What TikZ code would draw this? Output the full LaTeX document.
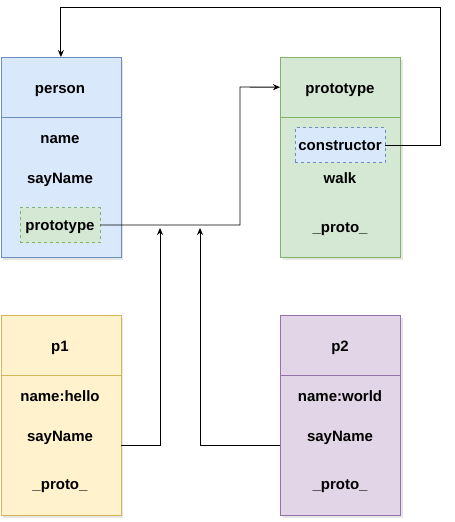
\documentclass[tikz,border=0pt]{standalone}
\usepackage{fontspec}
\setmainfont{Liberation Sans}
\usetikzlibrary{arrows.meta,shadows}
\definecolor{bfill}{HTML}{DAE8FC}\definecolor{bline}{HTML}{6C8EBF}
\definecolor{gfill}{HTML}{D5E8D4}\definecolor{gline}{HTML}{82B366}
\definecolor{yfill}{HTML}{FFF2CC}\definecolor{yline}{HTML}{D6B656}
\definecolor{pfill}{HTML}{E1D5E7}\definecolor{pline}{HTML}{9673A6}
\begin{document}
\begin{tikzpicture}[x=1pt,y=-1pt,
  box/.style={draw, anchor=north west, minimum width=120pt, minimum height=200pt, inner sep=0, line width=0.8pt,
    drop shadow={shadow xshift=2.5pt, shadow yshift=-2.5pt, opacity=0.2}},
  head/.style={anchor=north west, minimum width=120pt, minimum height=60pt, inner sep=0},
  txt/.style={font=\fontsize{15}{18}\selectfont\bfseries, inner sep=0, text height=10.5pt, text depth=3pt},
  inner/.style={draw, dashed, line width=0.7pt, minimum height=35pt, inner sep=0, font=\fontsize{15}{18}\selectfont\bfseries, text height=10.5pt, text depth=3pt},
  conn/.style={draw, line width=0.9pt},
  tip/.style={-{Stealth[length=7pt,width=6pt]}}]
\useasboundingbox (0,0) rectangle (455,522);
% boxes
\node[box, fill=bfill, draw=bline] (person) at (0.5,57) {};
\node[head] (personhead) at (0.5,57) {};
\draw[bline, line width=0.8pt] (personhead.south west) -- (personhead.south east);
\node[box, fill=gfill, draw=gline] (proto) at (280,57) {};
\node[head] (protohead) at (280,57) {};
\draw[gline, line width=0.8pt] (protohead.south west) -- (protohead.south east);
\node[box, fill=yfill, draw=yline] (p1) at (0.5,315) {};
\node[head] (p1head) at (0.5,315) {};
\draw[yline, line width=0.8pt] (p1head.south west) -- (p1head.south east);
\node[box, fill=pfill, draw=pline] (p2) at (280,315) {};
\node[head] (p2head) at (280,315) {};
\draw[pline, line width=0.8pt] (p2head.south west) -- (p2head.south east);
% person texts
\node[txt] (t-person) at (60,90) {person};
\node[txt] (t-name) at (60,140) {name};
\node[txt] (t-say) at (60,180) {sayName};
\node[inner, fill=gfill, draw=gline, minimum width=80pt] (pproto) at (60,225) {\raisebox{-2pt}{prototype}};
% prototype texts
\node[txt] (t-proto) at (340,90) {prototype};
\node[inner, fill=bfill, draw=bline, minimum width=90pt] (ctor) at (340,145) {\raisebox{-2pt}{constructor}};
\node[txt] (t-walk) at (340,180) {walk};
\node[txt] (t-pr1) at (340,229) {\_proto\_};
% p1 texts
\node[txt] (t-p1) at (60,348) {p1};
\node[txt] (t-hello) at (60,398) {name:hello};
\node[txt] (t-say1) at (60,438) {sayName};
\node[txt] (t-pr2) at (60,486) {\_proto\_};
% p2 texts
\node[txt] (t-p2) at (340,348) {p2};
\node[txt] (t-world) at (340,398) {name:world};
\node[txt] (t-say2) at (340,438) {sayName};
\node[txt] (t-pr3) at (340,486) {\_proto\_};
% connectors
\coordinate (c1) at (440,7);
\draw[conn, tip] (ctor.east) -| (c1) -| (person.north);
\coordinate (k2) at (240,87);
\draw[conn, tip] (pproto.east) -| (k2) -- (protohead.west);
\coordinate (a1) at (120.5,445);
\coordinate (e1) at (160,228);
\draw[conn, tip] (a1) -| (e1);
\coordinate (a2) at (280,445);
\coordinate (e2) at (200,228);
\draw[conn, tip] (a2) -| (e2);
\end{tikzpicture}
\end{document}
